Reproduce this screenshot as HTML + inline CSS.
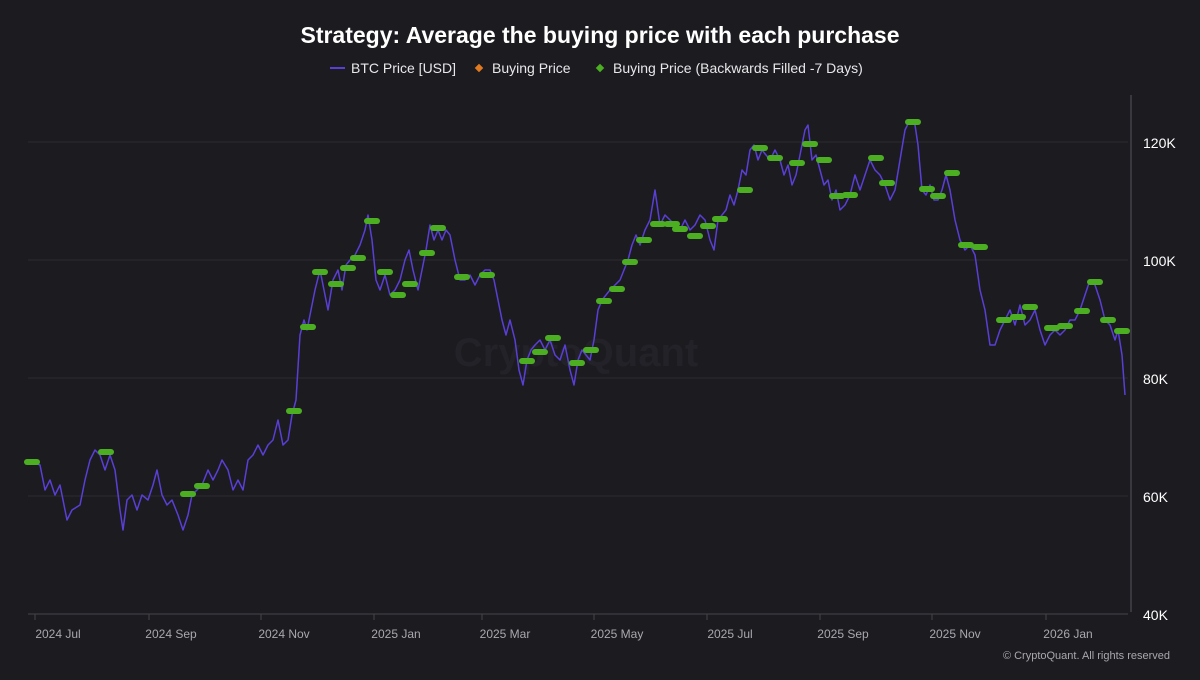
<!DOCTYPE html>
<html><head><meta charset="utf-8"><style>
html,body{margin:0;padding:0;background:#1c1b20;}
body{width:1200px;height:675px;overflow:hidden;font-family:"Liberation Sans",sans-serif;}
</style></head><body>
<svg width="1200" height="675" xmlns="http://www.w3.org/2000/svg" font-family="Liberation Sans, sans-serif">
<rect width="1200" height="675" fill="#1c1b20"/>
<text x="600" y="43" fill="#ffffff" font-size="23" font-weight="bold" text-anchor="middle">Strategy: Average the buying price with each purchase</text>
<g font-size="14" fill="#e8e8ea">
<line x1="330" y1="68" x2="345" y2="68" stroke="#5a3fd6" stroke-width="2"/>
<text x="351" y="73">BTC Price [USD]</text>
<rect x="476" y="65" width="6" height="6" fill="#e07a20" transform="rotate(45 479 68)"/>
<text x="492" y="73">Buying Price</text>
<rect x="597" y="65" width="6" height="6" fill="#4caf22" transform="rotate(45 600 68)"/>
<text x="613" y="73">Buying Price (Backwards Filled -7 Days)</text>
</g>
<g stroke="#2c2b31" stroke-width="1">
<line x1="28" y1="142" x2="1128" y2="142"/>
<line x1="28" y1="260" x2="1128" y2="260"/>
<line x1="28" y1="378" x2="1128" y2="378"/>
<line x1="28" y1="496" x2="1128" y2="496"/>
</g>
<line x1="28" y1="614" x2="1128" y2="614" stroke="#45444c" stroke-width="1"/>
<line x1="1131" y1="95" x2="1131" y2="612" stroke="#55545c" stroke-width="1"/>
<g font-size="14" fill="#ffffff">
<text x="1143" y="148">120K</text>
<text x="1143" y="266">100K</text>
<text x="1143" y="384">80K</text>
<text x="1143" y="502">60K</text>
<text x="1143" y="620">40K</text>
</g>
<g stroke="#45444c"><line x1="35" y1="614" x2="35" y2="620"/><line x1="149" y1="614" x2="149" y2="620"/><line x1="261" y1="614" x2="261" y2="620"/><line x1="374" y1="614" x2="374" y2="620"/><line x1="482" y1="614" x2="482" y2="620"/><line x1="594" y1="614" x2="594" y2="620"/><line x1="707" y1="614" x2="707" y2="620"/><line x1="820" y1="614" x2="820" y2="620"/><line x1="932" y1="614" x2="932" y2="620"/><line x1="1046" y1="614" x2="1046" y2="620"/></g>
<g font-size="12" fill="#a8a8ae" text-anchor="middle">
<text x="58" y="638">2024 Jul</text><text x="171" y="638">2024 Sep</text><text x="284" y="638">2024 Nov</text><text x="396" y="638">2025 Jan</text><text x="505" y="638">2025 Mar</text><text x="617" y="638">2025 May</text><text x="730" y="638">2025 Jul</text><text x="843" y="638">2025 Sep</text><text x="955" y="638">2025 Nov</text><text x="1068" y="638">2026 Jan</text>
</g>
<text x="1170" y="659" font-size="11" fill="#a8a8ae" text-anchor="end">© CryptoQuant. All rights reserved</text>
<text x="576" y="366" font-size="40" font-weight="bold" fill="#232228" text-anchor="middle">CryptoQuant</text>
<polyline fill="none" stroke="#5a3fd6" stroke-width="1.5" stroke-linejoin="round" points="28,460 40,465 45,490 50,480 55,495 60,485 67,520 72,510 80,505 85,480 90,460 95,450 100,455 105,470 110,455 115,470 120,510 123,530 127,500 132,495 137,510 142,495 148,500 153,485 157,470 162,495 167,505 172,500 178,515 183,530 188,515 192,495 197,490 202,485 208,470 213,480 218,470 222,460 228,470 233,490 238,480 243,490 248,460 253,455 258,445 263,455 268,445 273,440 278,420 283,445 288,440 292,415 296,400 300,335 304,320 307,330 310,315 315,290 320,270 324,290 328,310 333,280 338,270 342,290 346,265 350,260 355,255 360,245 365,230 368,215 372,240 376,280 380,290 385,275 390,295 395,290 400,280 405,260 409,250 413,270 418,290 422,270 426,250 430,225 434,240 438,230 442,240 446,230 450,235 455,260 460,280 465,280 470,275 475,285 480,275 485,270 490,270 494,280 498,300 502,320 506,335 510,320 515,340 519,370 523,385 527,360 531,350 535,345 540,340 545,350 550,340 555,355 560,360 565,345 570,370 574,385 578,360 582,350 586,355 590,360 594,340 598,310 602,300 606,295 610,290 615,285 620,280 624,270 628,260 632,245 636,235 640,245 645,230 650,220 655,190 660,225 665,215 670,220 675,225 680,230 685,220 690,230 695,225 700,215 705,220 710,240 714,250 718,220 722,215 726,210 730,195 734,205 738,190 742,170 746,175 750,150 754,145 758,160 762,150 766,155 770,160 775,150 780,160 784,175 788,165 792,185 796,175 800,155 805,130 808,125 812,160 816,155 820,170 824,185 828,180 832,200 836,190 840,210 845,205 850,195 855,175 860,190 865,175 870,160 875,170 880,175 885,185 890,200 895,190 900,160 905,130 910,120 915,125 918,145 922,190 926,195 930,185 934,200 938,200 942,190 946,175 950,190 955,220 960,240 965,250 970,245 975,255 980,290 985,310 990,345 995,345 1000,330 1005,320 1010,310 1015,325 1020,305 1025,325 1030,320 1035,310 1040,330 1045,345 1050,335 1055,330 1060,335 1065,330 1070,320 1075,320 1080,310 1085,295 1090,280 1095,285 1100,300 1105,320 1110,325 1115,340 1118,330 1122,355 1125,395"/>
<g fill="#4caf22">
<rect x="24" y="459" width="16" height="6" rx="3"/><rect x="98" y="449" width="16" height="6" rx="3"/><rect x="180" y="491" width="16" height="6" rx="3"/><rect x="194" y="483" width="16" height="6" rx="3"/><rect x="286" y="408" width="16" height="6" rx="3"/><rect x="300" y="324" width="16" height="6" rx="3"/><rect x="312" y="269" width="16" height="6" rx="3"/><rect x="328" y="281" width="16" height="6" rx="3"/><rect x="340" y="265" width="16" height="6" rx="3"/><rect x="350" y="255" width="16" height="6" rx="3"/><rect x="364" y="218" width="16" height="6" rx="3"/><rect x="377" y="269" width="16" height="6" rx="3"/><rect x="390" y="292" width="16" height="6" rx="3"/><rect x="402" y="281" width="16" height="6" rx="3"/><rect x="419" y="250" width="16" height="6" rx="3"/><rect x="430" y="225" width="16" height="6" rx="3"/><rect x="454" y="274" width="16" height="6" rx="3"/><rect x="479" y="272" width="16" height="6" rx="3"/><rect x="519" y="358" width="16" height="6" rx="3"/><rect x="532" y="349" width="16" height="6" rx="3"/><rect x="545" y="335" width="16" height="6" rx="3"/><rect x="569" y="360" width="16" height="6" rx="3"/><rect x="583" y="347" width="16" height="6" rx="3"/><rect x="596" y="298" width="16" height="6" rx="3"/><rect x="609" y="286" width="16" height="6" rx="3"/><rect x="622" y="259" width="16" height="6" rx="3"/><rect x="636" y="237" width="16" height="6" rx="3"/><rect x="650" y="221" width="16" height="6" rx="3"/><rect x="664" y="221" width="16" height="6" rx="3"/><rect x="672" y="226" width="16" height="6" rx="3"/><rect x="687" y="233" width="16" height="6" rx="3"/><rect x="700" y="223" width="16" height="6" rx="3"/><rect x="712" y="216" width="16" height="6" rx="3"/><rect x="737" y="187" width="16" height="6" rx="3"/><rect x="752" y="145" width="16" height="6" rx="3"/><rect x="767" y="155" width="16" height="6" rx="3"/><rect x="789" y="160" width="16" height="6" rx="3"/><rect x="802" y="141" width="16" height="6" rx="3"/><rect x="816" y="157" width="16" height="6" rx="3"/><rect x="829" y="193" width="16" height="6" rx="3"/><rect x="842" y="192" width="16" height="6" rx="3"/><rect x="868" y="155" width="16" height="6" rx="3"/><rect x="879" y="180" width="16" height="6" rx="3"/><rect x="905" y="119" width="16" height="6" rx="3"/><rect x="919" y="186" width="16" height="6" rx="3"/><rect x="930" y="193" width="16" height="6" rx="3"/><rect x="944" y="170" width="16" height="6" rx="3"/><rect x="958" y="242" width="16" height="6" rx="3"/><rect x="972" y="244" width="16" height="6" rx="3"/><rect x="996" y="317" width="16" height="6" rx="3"/><rect x="1010" y="314" width="16" height="6" rx="3"/><rect x="1022" y="304" width="16" height="6" rx="3"/><rect x="1044" y="325" width="16" height="6" rx="3"/><rect x="1057" y="323" width="16" height="6" rx="3"/><rect x="1074" y="308" width="16" height="6" rx="3"/><rect x="1087" y="279" width="16" height="6" rx="3"/><rect x="1100" y="317" width="16" height="6" rx="3"/><rect x="1114" y="328" width="16" height="6" rx="3"/>
</g>
</svg>
</body></html>
